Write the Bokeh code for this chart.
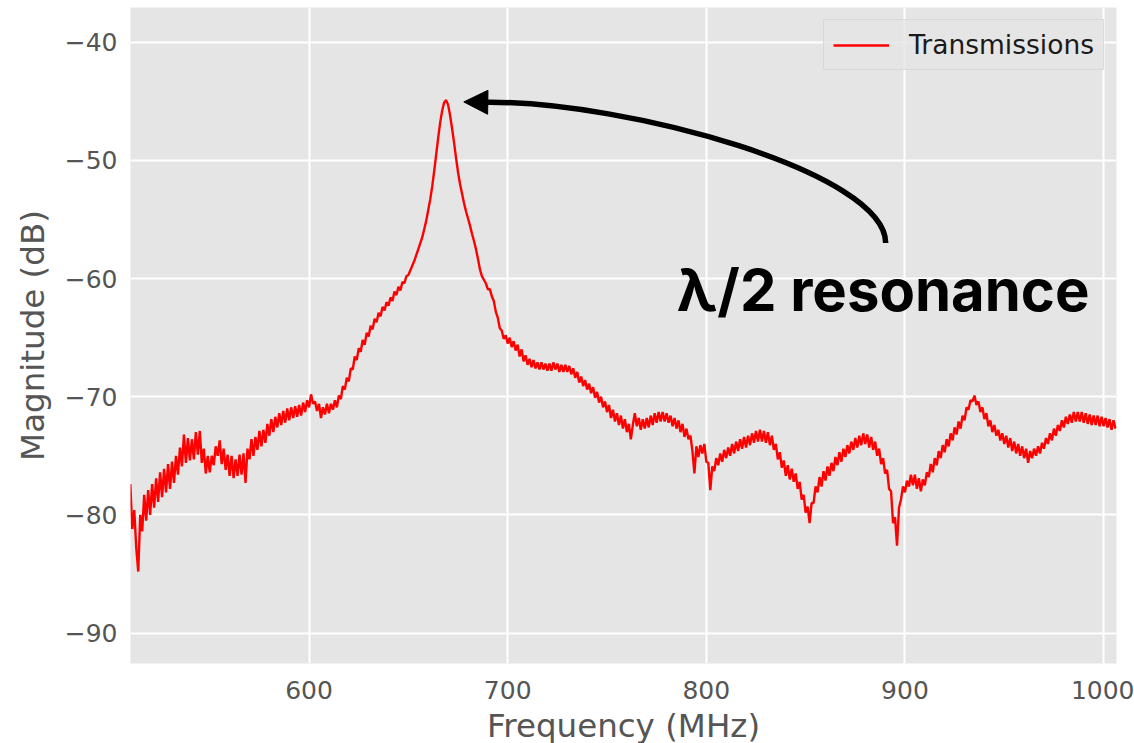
from bokeh.plotting import figure
from bokeh.models import Range1d, FixedTicker, Label, Arrow, NormalHead
from bokeh.embed import file_html
from bokeh.resources import INLINE

# ---------------- data ----------------
series_name = "Transmissions"
freq_mhz = list(range(510, 1007))  # sampling grid, 1 MHz
magnitude_db = [
    # 510 .. 529
    -77.4, -81.2, -79.6, -82.8, -84.8, -80.0, -81.4, -78.3, -80.5, -77.9,
    -80.0, -77.4, -79.4, -76.9, -78.9, -76.4, -78.5, -76.1, -78.1, -75.7,
    # 530 .. 549
    -77.8, -75.5, -77.3, -75.0, -76.6, -74.3, -75.9, -73.2, -75.6, -73.5,
    -75.4, -73.6, -75.3, -73.0, -74.9, -72.9, -75.6, -74.4, -76.5, -75.0,
    # 550 .. 569
    -76.4, -75.0, -75.8, -74.2, -75.0, -73.7, -75.7, -74.4, -76.2, -74.9,
    -76.7, -75.0, -76.9, -75.3, -76.7, -74.9, -76.6, -74.8, -77.3, -74.4,
    # 570 .. 589
    -75.3, -73.6, -75.0, -73.4, -74.5, -72.9, -74.2, -72.8, -73.9, -72.3,
    -73.3, -71.9, -73.0, -71.7, -72.6, -71.4, -72.4, -71.2, -72.2, -71.0,
    # 590 .. 609
    -72.0, -70.9, -71.8, -70.8, -71.7, -70.7, -71.6, -70.5, -71.3, -70.3,
    -70.9, -69.8, -70.6, -70.4, -71.2, -70.6, -71.8, -70.9, -71.5, -70.6,
    # 610 .. 629
    -71.4, -70.6, -71.1, -70.3, -70.9, -69.9, -70.2, -69.1, -69.4, -68.4,
    -68.7, -67.6, -67.7, -66.6, -66.9, -65.9, -66.2, -65.2, -65.6, -64.6,
    # 630 .. 649
    -64.9, -64.0, -64.3, -63.4, -63.7, -62.9, -63.2, -62.4, -62.7, -62.0,
    -62.3, -61.6, -61.9, -61.1, -61.4, -60.7, -61.0, -60.3, -60.4, -59.8,
    # 650 .. 669
    -59.7, -59.3, -58.9, -58.5, -58.0, -57.5, -57.0, -56.5, -55.8, -55.1,
    -54.2, -53.3, -52.2, -50.9, -49.5, -48.1, -46.8, -45.8, -45.1, -44.9,
    # 670 .. 689
    -45.3, -46.2, -47.3, -48.5, -49.8, -51.0, -52.0, -52.8, -53.6, -54.3,
    -54.9, -55.5, -56.2, -56.8, -57.5, -58.3, -59.2, -59.8, -60.1, -60.4,
    # 690 .. 709
    -60.9, -60.9, -61.5, -61.9, -62.8, -63.3, -64.2, -64.4, -65.1, -64.8,
    -65.5, -65.0, -65.8, -65.3, -66.1, -65.6, -66.6, -66.0, -67.0, -66.5,
    # 710 .. 729
    -67.3, -66.8, -67.5, -66.9, -67.6, -67.1, -67.7, -67.1, -67.7, -67.2,
    -67.8, -67.2, -67.8, -67.1, -67.7, -67.2, -67.9, -67.3, -67.9, -67.3,
    # 730 .. 749
    -67.9, -67.4, -68.1, -67.6, -68.4, -67.9, -68.8, -68.3, -69.1, -68.6,
    -69.4, -68.9, -69.7, -69.2, -70.1, -69.6, -70.5, -70.0, -70.9, -70.4,
    # 750 .. 769
    -71.3, -70.7, -71.8, -71.1, -72.1, -71.4, -72.4, -71.6, -72.7, -71.9,
    -73.0, -72.3, -73.6, -72.4, -71.4, -72.5, -71.8, -72.8, -71.9, -72.7,
    # 770 .. 789
    -71.8, -72.6, -71.6, -72.4, -71.4, -72.2, -71.3, -72.1, -71.3, -72.1,
    -71.4, -72.2, -71.6, -72.5, -71.8, -72.7, -72.0, -73.0, -72.3, -73.4,
    # 790 .. 809
    -72.7, -73.6, -73.3, -74.6, -76.5, -74.2, -75.1, -74.1, -74.8, -74.0,
    -75.5, -75.6, -77.9, -75.9, -76.3, -75.2, -75.8, -74.8, -75.5, -74.5,
    # 810 .. 829
    -75.2, -74.3, -75.0, -74.0, -74.8, -73.8, -74.6, -73.6, -74.4, -73.4,
    -74.3, -73.3, -74.1, -73.1, -73.9, -72.9, -73.8, -72.8, -73.8, -72.9,
    # 830 .. 849
    -73.9, -73.0, -74.1, -73.3, -74.5, -74.0, -75.3, -74.7, -76.0, -75.4,
    -76.7, -75.8, -77.0, -76.1, -77.2, -76.5, -77.8, -77.2, -78.7, -78.3,
    # 850 .. 869
    -79.8, -79.3, -80.7, -79.0, -79.0, -77.6, -78.1, -76.8, -77.6, -76.3,
    -77.1, -75.9, -76.7, -75.6, -76.3, -75.1, -75.8, -74.7, -75.5, -74.4,
    # 870 .. 889
    -75.1, -74.1, -74.8, -73.8, -74.5, -73.5, -74.3, -73.3, -74.1, -73.1,
    -74.0, -73.2, -74.3, -73.4, -74.5, -73.8, -75.0, -74.4, -75.7, -75.2,
    # 890 .. 909
    -76.5, -76.2, -77.8, -78.0, -80.7, -80.2, -82.6, -79.4, -78.7, -77.6,
    -78.1, -77.1, -77.6, -76.6, -77.5, -76.6, -77.8, -76.9, -78.0, -77.0,
    # 910 .. 929
    -77.5, -76.4, -76.8, -75.7, -76.4, -75.2, -75.8, -74.6, -75.2, -74.1,
    -74.7, -73.6, -74.2, -73.1, -73.7, -72.6, -73.2, -72.1, -72.7, -71.6,
    # 930 .. 949
    -72.0, -70.9, -71.1, -70.3, -70.4, -69.9, -70.7, -70.4, -71.3, -70.9,
    -71.9, -71.4, -72.5, -72.0, -73.0, -72.4, -73.3, -72.8, -73.7, -73.1,
    # 950 .. 969
    -74.0, -73.3, -74.3, -73.5, -74.6, -73.8, -74.8, -74.0, -75.0, -74.2,
    -75.2, -74.4, -75.6, -74.6, -75.2, -74.4, -75.0, -74.2, -74.8, -73.9,
    # 970 .. 989
    -74.4, -73.5, -74.0, -73.1, -73.7, -72.7, -73.3, -72.4, -72.9, -72.0,
    -72.6, -71.7, -72.3, -71.5, -72.2, -71.3, -72.1, -71.3, -72.1, -71.3,
    # 990 .. 1006
    -72.2, -71.4, -72.3, -71.5, -72.4, -71.6, -72.4, -71.6, -72.5, -71.7,
    -72.5, -71.8, -72.6, -71.9, -72.8, -72.0, -72.7,
]
assert len(freq_mhz) == len(magnitude_db)

x_ticks = [600, 700, 800, 900, 1000]
x_tick_labels = ["600", "700", "800", "900", "1000"]
y_ticks = [-90, -80, -70, -60, -50, -40]
y_tick_labels = ["\u221290", "\u221280", "\u221270", "\u221260", "\u221250", "\u221240"]

x_label = "Frequency (MHz)"
y_label = "Magnitude (dB)"
annotation_text = "\u03bb/2 resonance"

# annotation geometry (data coordinates)
ann_text_xy = (889.1, -61.0)
arrow_curve = dict(x0=890.3, y0=-57.0, cx0=890.3, cy0=-51.0,
                   cx1=760.0, cy1=-45.0, x1=689.6, y1=-45.08)
arrow_tip = (677.9, -45.05)

# ---------------- figure ----------------
p = figure(
    frame_width=986, frame_height=656,
    x_range=Range1d(510.1, 1006.5), y_range=Range1d(-92.58, -37.06),
    output_backend="svg", toolbar_location=None,
    min_border_left=130, min_border_right=18, min_border_top=7, min_border_bottom=80,
    background_fill_color="#E5E5E5", border_fill_color="white",
    outline_line_color=None,
)

p.line(freq_mhz, magnitude_db, line_color="#FF0000", line_width=2.4,
       legend_label=series_name)

# axes
for ax in (p.xaxis, p.yaxis):
    ax.axis_line_color = None
    ax.major_tick_line_color = None
    ax.minor_tick_line_color = None
    ax.major_label_text_font = "DejaVu Sans"
    ax.major_label_text_font_size = "25px"
    ax.major_label_text_color = "#555555"
    ax.axis_label_text_font = "DejaVu Sans"
    ax.axis_label_text_font_size = "32.5px"
    ax.axis_label_text_font_style = "normal"
    ax.axis_label_text_color = "#555555"

p.xaxis.major_label_standoff = 11
p.yaxis.major_tick_out = 0
p.yaxis.major_tick_in = 0
p.yaxis.major_label_standoff = 13
p.xaxis.axis_label = x_label
p.yaxis.axis_label = y_label
p.xaxis.axis_label_standoff = 5
p.yaxis.axis_label_standoff = 10
p.xaxis.ticker = FixedTicker(ticks=x_ticks)
p.yaxis.ticker = FixedTicker(ticks=y_ticks)
p.xaxis.major_label_overrides = {float(t): s for t, s in zip(x_ticks, x_tick_labels)}
p.yaxis.major_label_overrides = {float(t): s for t, s in zip(y_ticks, y_tick_labels)}

for g in (p.xgrid, p.ygrid):
    g.grid_line_color = "white"
    g.grid_line_width = 2

# legend
lg = p.legend[0]
lg.location = "top_right"
lg.margin = 12
lg.padding = 9
lg.spacing = 0
lg.glyph_width = 56
lg.glyph_height = 24
lg.label_standoff = 20
lg.label_text_font = "DejaVu Sans"
lg.label_text_font_size = "26.5px"
lg.label_text_color = "#1a1a1a"
lg.background_fill_color = "#E5E5E5"
lg.background_fill_alpha = 0.8
lg.border_line_color = "#CCCCCC"
lg.border_line_width = 1

# curved arrow annotation
p.bezier(x0=[arrow_curve["x0"]], y0=[arrow_curve["y0"]],
         x1=[arrow_curve["x1"]], y1=[arrow_curve["y1"]],
         cx0=[arrow_curve["cx0"]], cy0=[arrow_curve["cy0"]],
         cx1=[arrow_curve["cx1"]], cy1=[arrow_curve["cy1"]],
         line_color="black", line_width=5.5)
p.add_layout(Arrow(
    end=NormalHead(size=24, fill_color="black", line_color="black", line_width=1),
    x_start=arrow_curve["x1"], y_start=arrow_curve["y1"],
    x_end=arrow_tip[0], y_end=arrow_tip[1],
    line_color="black", line_width=5,
))

p.add_layout(Label(
    x=ann_text_xy[0], y=ann_text_xy[1], text=annotation_text,
    text_align="center", text_baseline="alphabetic",
    text_font="Inter", text_font_style="bold", text_font_size="58px",
    text_color="black",
))

open("out.html", "w").write(file_html(p, INLINE))
